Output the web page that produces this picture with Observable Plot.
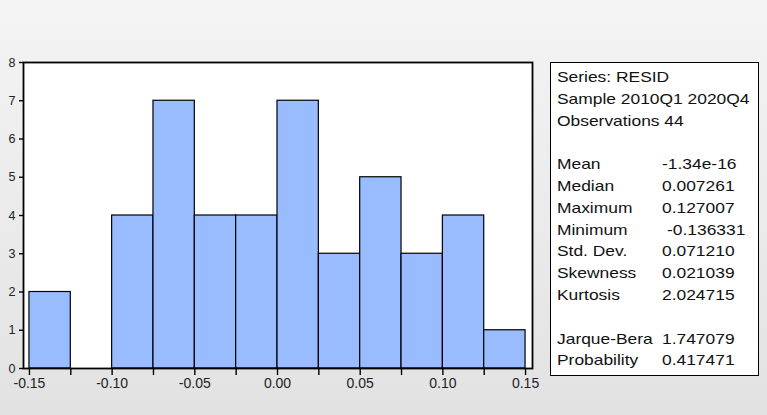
<!DOCTYPE html>
<html>
<head>
<meta charset="utf-8">
<script src="https://cdn.jsdelivr.net/npm/d3@7"></script>
<script src="https://cdn.jsdelivr.net/npm/@observablehq/plot@0.6"></script>
<style>
  html, body { margin: 0; padding: 0; }
  body { width: 767px; height: 415px; position: relative; overflow: hidden;
         background: linear-gradient(#f4f4f4, #e2e2e2); font-family: "Liberation Sans", Arial, sans-serif; }
  #chart { position: absolute; left: 0; top: 0; }
  #stats { position: absolute; left: 550px; top: 62px; width: 209px; height: 314px;
           background: #fff; border: 1.6px solid #000; box-sizing: border-box;
           font-size: 15px; color: #111; }
  #stats .row, #stats .v { position: absolute; white-space: nowrap; transform: scaleX(1.16); transform-origin: left center; }
</style>
</head>
<body>
<div id="chart"></div>
<div id="stats"></div>
<script>
// Histogram bins (lower edge, upper edge) and counts
const binLower = [-0.150, -0.125, -0.100, -0.075, -0.050, -0.025, 0.000, 0.025, 0.050, 0.075, 0.100, 0.125];
const binUpper = [-0.125, -0.100, -0.075, -0.050, -0.025, 0.000, 0.025, 0.050, 0.075, 0.100, 0.125, 0.150];
const counts   = [2, 0, 4, 7, 4, 4, 7, 3, 5, 3, 4, 1];

const xTicks = [-0.15, -0.125, -0.10, -0.075, -0.05, -0.025, 0.00, 0.025, 0.05, 0.075, 0.10, 0.125, 0.15];
const xLabels = ["-0.15", "", "-0.10", "", "-0.05", "", "0.00", "", "0.05", "", "0.10", "", "0.15"];
const yTicks = [0, 1, 2, 3, 4, 5, 6, 7, 8];

// Statistics panel
const headerLines = ["Series: RESID", "Sample 2010Q1 2020Q4", "Observations 44"];
const statNames = ["Mean", "Median", "Maximum", "Minimum", "Std. Dev.", "Skewness", "Kurtosis"];
const statValues = ["-1.34e-16", "0.007261", "0.127007", "-0.136331", "0.071210", "0.021039", "2.024715"];
const testNames = ["Jarque-Bera", "Probability"];
const testValues = ["1.747079", "0.417471"];

const bins = binLower.map((lo, i) => ({lo, hi: binUpper[i], n: counts[i]})).filter(d => d.n > 0);

const chart = Plot.plot({
  width: 767,
  height: 415,
  marginLeft: 23,
  marginRight: 235,
  marginTop: 62,
  marginBottom: 47,
  style: {background: "transparent", fontFamily: "Liberation Sans, Arial, sans-serif", color: "#222"},
  x: {domain: [-0.1536, 0.1542]},
  y: {domain: [0, 8]},
  marks: [
    Plot.frame({fill: "white"}),
    Plot.rectY(bins, {x1: "lo", x2: "hi", y: "n", fill: "#99bbff", stroke: "#000", strokeWidth: 1.2}),
    Plot.axisX({ticks: xTicks, tickSize: 7, tickPadding: 3, fontSize: 14, stroke: "#000", strokeWidth: 1.4,
                tickFormat: (d) => xLabels[xTicks.findIndex(t => Math.abs(t - d) < 1e-9)], label: null,
                style: {letterSpacing: "0.5px"}}),
    Plot.axisY({ticks: yTicks, tickSize: 4, tickPadding: 4, fontSize: 12.5, stroke: "#000", strokeWidth: 1.4,
                tickFormat: d3.format("d"), label: null}),
    Plot.frame({stroke: "#000", strokeWidth: 1.8})
  ]
});
document.getElementById("chart").append(chart);

const stats = document.getElementById("stats");
const lineH = 21.8;
const firstY = 5;
function addRow(idx, name, value, vx) {
  const row = document.createElement("div");
  row.className = "row";
  row.style.left = "6px";
  row.style.top = (firstY + idx * lineH) + "px";
  row.textContent = name;
  stats.append(row);
  if (value !== undefined) {
    const v = document.createElement("span");
    v.className = "v";
    v.style.left = vx + "px";
    v.style.top = (firstY + idx * lineH) + "px";
    v.textContent = value;
    stats.append(v);
  }
}
headerLines.forEach((t, i) => addRow(i, t));
statNames.forEach((t, i) => addRow(4 + i, t, statValues[i], t === "Minimum" ? 116 : 111));
testNames.forEach((t, i) => addRow(12 + i, t, testValues[i], 111));
</script>
</body>
</html>
